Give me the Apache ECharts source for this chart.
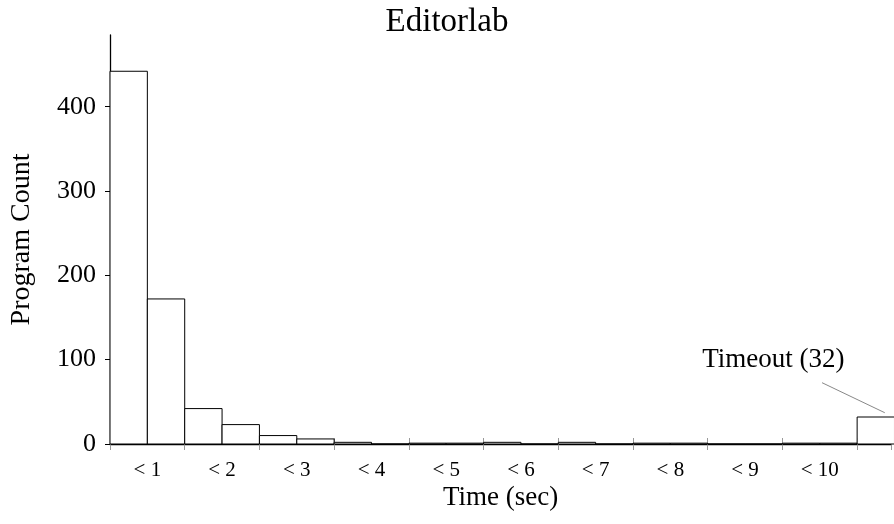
<!DOCTYPE html>
<html>
<head>
<meta charset="utf-8">
<script src="https://cdn.jsdelivr.net/npm/echarts@6/dist/echarts.min.js"></script>
<style>
  html, body { margin: 0; padding: 0; background: #fff; }
  #chart { width: 894px; height: 524px; }
</style>
</head>
<body>
<div id="chart"></div>
<script>
// histogram bins, 0.5 s wide
const binStart = [0, 0.5, 1, 1.5, 2, 2.5, 3, 3.5, 4, 4.5, 5, 5.5, 6, 6.5, 7, 7.5, 8, 8.5, 9, 9.5];
const binWidth = 0.5;
const counts = [442, 172, 42, 23, 10, 6, 2, 0, 1, 1, 2, 0, 2, 0, 1, 1, 0, 0, 1, 1];
const timeoutStart = 10;
const timeoutCount = 32;
const tickLabels = ["< 1", "< 2", "< 3", "< 4", "< 5", "< 6", "< 7", "< 8", "< 9", "< 10"];

const FONT = "Liberation Serif";
const X_MAX = 10.4533;

const bins = binStart.map((s, i) => [s, s + binWidth, counts[i]]);
bins.push([timeoutStart, timeoutStart + binWidth, timeoutCount]);

const chart = echarts.init(document.getElementById("chart"), null, { renderer: "canvas" });

const xBase = {
  type: "value",
  min: 0,
  max: X_MAX,
  splitLine: { show: false },
  gridIndex: 0,
  position: "bottom",
};

const option = {
  animation: false,
  backgroundColor: "#fff",
  title: {
    text: "Editorlab",
    left: "center",
    top: 1,
    textStyle: { fontFamily: FONT, fontSize: 33, fontWeight: "normal", color: "#000" },
  },
  grid: { left: 110, right: 0, top: 35, bottom: 80 },
  xAxis: [
    Object.assign({}, xBase, {
      interval: 1,
      axisLine: { lineStyle: { color: "#000", width: 1.3 } },
      axisTick: { length: 6, lineStyle: { color: "#999" } },
      axisLabel: { show: false },
      name: "Time (sec)",
      nameLocation: "middle",
      nameGap: 40,
      nameTextStyle: { fontFamily: FONT, fontSize: 27, color: "#000" },
    }),
    Object.assign({}, xBase, {
      interval: 1,
      axisLine: { show: false },
      axisTick: { inside: true, length: 6, lineStyle: { color: "#999" } },
      axisLabel: { show: false },
    }),
    Object.assign({}, xBase, {
      interval: 0.5,
      axisLine: { show: false },
      axisTick: { show: false },
      axisLabel: {
        margin: 16,
        fontFamily: FONT,
        fontSize: 21,
        color: "#000",
        formatter: (v) => (v % 1 === 0.5 ? tickLabels[Math.floor(v)] : ""),
      },
    }),
  ],
  yAxis: {
    type: "value",
    min: 0,
    max: 485,
    interval: 100,
    splitLine: { show: false },
    axisLine: { show: true, lineStyle: { color: "#000", width: 1.3 } },
    axisTick: { show: true, length: 5, lineStyle: { color: "#000" } },
    axisLabel: {
      margin: 14,
      fontFamily: FONT,
      fontSize: 26,
      color: "#000",
      showMaxLabel: false,
    },
    name: "Program Count",
    nameLocation: "middle",
    nameGap: 74,
    nameTextStyle: { fontFamily: FONT, fontSize: 28, color: "#000" },
  },
  series: [
    {
      type: "custom",
      xAxisIndex: 0,
      data: bins,
      renderItem: (params, api) => {
        const p0 = api.coord([api.value(0), api.value(2)]);
        const p1 = api.coord([api.value(1), 0]);
        return {
          type: "rect",
          shape: { x: p0[0], y: p0[1], width: p1[0] - p0[0], height: p1[1] - p0[1] },
          style: { fill: "#fff", stroke: "#000", lineWidth: 1 },
        };
      },
      z: 1,
    },
    {
      // leader line to the timeout bar
      type: "line",
      xAxisIndex: 0,
      data: [[9.53, 72.7], [10.37, 37.1]],
      symbol: "none",
      lineStyle: { color: "#888", width: 1 },
      silent: true,
      z: 3,
    },
    {
      type: "custom",
      xAxisIndex: 0,
      data: [[8.88, 100]],
      renderItem: (params, api) => {
        const p = api.coord([api.value(0), api.value(1)]);
        return {
          type: "text",
          x: p[0],
          y: p[1],
          style: {
            text: "Timeout (" + timeoutCount + ")",
            font: "27px '" + FONT + "'",
            fill: "#000",
            align: "center",
            verticalAlign: "middle",
          },
        };
      },
      silent: true,
      z: 3,
    },
  ],
};

chart.setOption(option);
</script>
</body>
</html>
